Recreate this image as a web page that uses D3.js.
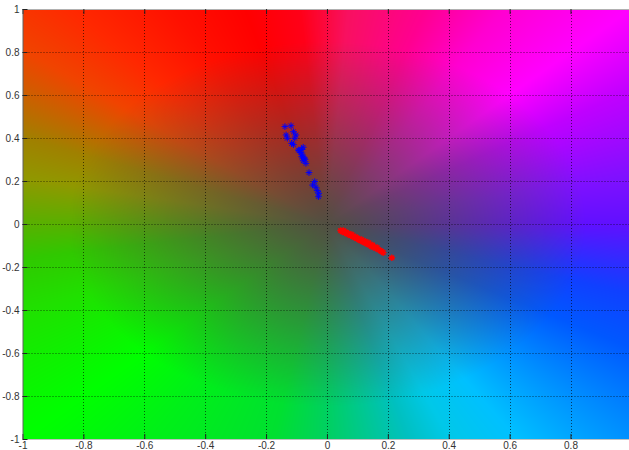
<!DOCTYPE html>
<html>
<head>
<meta charset="utf-8">
<script src="https://cdn.jsdelivr.net/npm/d3@7"></script>
<style>
  body { margin: 0; background: #fff; }
  svg { display: block; }
  .tick text { font-family: "Liberation Sans", Arial, sans-serif; font-size: 10px; fill: #333; }
</style>
</head>
<body>
<div id="root"></div>
<script>
// ticks
const xTicks = [-1, -0.8, -0.6, -0.4, -0.2, 0, 0.2, 0.4, 0.6, 0.8];
const yTicks = [-1, -0.8, -0.6, -0.4, -0.2, 0, 0.2, 0.4, 0.6, 0.8, 1];

// background colour field: edge colour by angle (degrees), faded to a grey centre
const fieldAngles = [-180, -171, -158, -135, -120, -100, -90, -75, -68, -58, -45, -30, -18, -12, 0, 13, 32, 45, 60, 72, 86, 95, 105, 117, 130, 141, 158, 168, 180];
const fieldColors = ['#58b000', '#30c800', '#20e000', '#00ff00', '#00f018', '#00e030', '#00d060', '#00c0c0', '#00c8e8', '#00c0ff', '#0090ff', '#0058ff', '#1040ff', '#2830ff', '#6010ff', '#8010ff', '#c000ff', '#ff00ff', '#ff00d0', '#ff0090', '#f81060', '#ff0018', '#ff0000', '#ff1000', '#ff2800', '#f04400', '#a08000', '#909800', '#58b000'];
const fieldCentre = '#524f42';
const fieldRadius = 0.85;

// blue series
const blueX = [-0.138, -0.118, -0.134, -0.130, -0.110, -0.102, -0.106, -0.116, -0.110, -0.078, -0.091, -0.086, -0.080, -0.083, -0.075, -0.078, -0.069, -0.059, -0.040, -0.047, -0.036, -0.032, -0.027, -0.028, -0.094, -0.083, -0.072];
const blueY = [0.453, 0.457, 0.414, 0.399, 0.429, 0.414, 0.399, 0.375, 0.369, 0.357, 0.341, 0.332, 0.321, 0.313, 0.306, 0.294, 0.282, 0.239, 0.197, 0.181, 0.171, 0.155, 0.143, 0.127, 0.344, 0.347, 0.301];

// red series
const redX = [0.045, 0.050, 0.054, 0.058, 0.062, 0.066, 0.070, 0.074, 0.078, 0.082, 0.086, 0.090, 0.094, 0.098, 0.102, 0.106, 0.110, 0.114, 0.118, 0.122, 0.126, 0.130, 0.134, 0.138, 0.142, 0.146, 0.150, 0.155, 0.160, 0.165, 0.170, 0.175, 0.180, 0.185, 0.213];
const redY = [-0.030, -0.036, -0.031, -0.041, -0.038, -0.046, -0.043, -0.050, -0.054, -0.049, -0.058, -0.063, -0.060, -0.068, -0.066, -0.074, -0.077, -0.072, -0.082, -0.086, -0.080, -0.090, -0.094, -0.088, -0.099, -0.104, -0.098, -0.108, -0.113, -0.110, -0.120, -0.124, -0.128, -0.133, -0.157];

const W = 629, H = 450;
const x = d3.scaleLinear().domain([-1, 1]).range([22.5, 631.4]);
const y = d3.scaleLinear().domain([-1, 1]).range([439, 9]);

const edge = d3.scaleLinear().domain(fieldAngles).range(fieldColors).interpolate(d3.interpolateRgb);

const svg = d3.select('#root').append('svg')
  .attr('width', W)
  .attr('height', H);

// paint the field into a canvas, then put it in the svg
const plotLeft = 23, plotTop = 9, pw = W - plotLeft, ph = 430;
const canvas = document.createElement('canvas');
canvas.width = pw;
canvas.height = ph;
const ctx = canvas.getContext('2d');
const img = ctx.createImageData(pw, ph);
for (let j = 0; j < ph; j++) {
  const vy = y.invert(plotTop + j + 0.5);
  for (let i = 0; i < pw; i++) {
    const vx = x.invert(plotLeft + i + 0.5);
    const ang = Math.atan2(vy, vx) * 180 / Math.PI;
    const t = Math.pow(Math.min(1, Math.hypot(vx, vy) / fieldRadius), 1.1);
    const c = d3.rgb(d3.interpolateRgb(fieldCentre, edge(ang))(t));
    const k = (j * pw + i) * 4;
    img.data[k] = c.r;
    img.data[k + 1] = c.g;
    img.data[k + 2] = c.b;
    img.data[k + 3] = 255;
  }
}
ctx.putImageData(img, 0, 0);

svg.append('image')
  .attr('x', plotLeft)
  .attr('y', plotTop)
  .attr('width', pw)
  .attr('height', ph)
  .attr('href', canvas.toDataURL());

// grid
const grid = svg.append('g')
  .attr('stroke', '#000')
  .attr('stroke-opacity', 0.6)
  .attr('stroke-dasharray', '1,2');
grid.selectAll('.gx')
  .data(xTicks.slice(1))
  .enter()
    .append('line')
    .attr('x1', d => Math.round(x(d)) + 0.5)
    .attr('x2', d => Math.round(x(d)) + 0.5)
    .attr('y1', y(1))
    .attr('y2', y(-1));
grid.selectAll('.gy')
  .data(yTicks.slice(1, -1))
  .enter()
    .append('line')
    .attr('x1', x(-1))
    .attr('x2', W)
    .attr('y1', d => Math.round(y(d)) + 0.5)
    .attr('y2', d => Math.round(y(d)) + 0.5);

// axes
const fmt = d => String(+d.toFixed(1));

const gBottom = svg.append('g')
  .attr('transform', 'translate(0,439)')
  .call(d3.axisBottom(x).tickValues(xTicks).tickFormat(fmt).tickSize(-5).tickSizeOuter(0).tickPadding(3));
const gTop = svg.append('g')
  .attr('transform', 'translate(0,9)')
  .call(d3.axisTop(x).tickValues(xTicks).tickFormat('').tickSize(-5).tickSizeOuter(0));
const gLeft = svg.append('g')
  .attr('transform', 'translate(22.5,0)')
  .call(d3.axisLeft(y).tickValues(yTicks).tickFormat(fmt).tickSize(-5).tickSizeOuter(0).tickPadding(3));

[gBottom, gTop, gLeft].forEach(g => {
  g.selectAll('.tick line').attr('stroke', '#222');
  g.selectAll('.tick text').attr('fill', '#333');
});
gBottom.select('.domain').attr('stroke', '#c0c0c0');
gTop.select('.domain').attr('stroke', '#b0b0b0');
gLeft.select('.domain').attr('stroke', '#606060');

// markers
function star(s) {
  const a = s * 0.7;
  return `M${-s},0H${s}M0,${-s}V${s}M${-a},${-a}L${a},${a}M${-a},${a}L${a},${-a}`;
}

svg.append('g').selectAll('path')
  .data(d3.zip(blueX, blueY))
  .enter()
    .append('path')
    .attr('transform', d => `translate(${x(d[0])},${y(d[1])})`)
    .attr('d', star(3.3))
    .attr('fill', 'none')
    .attr('stroke', '#0000ff')
    .attr('stroke-width', 1);

svg.append('g').selectAll('path')
  .data(d3.zip(redX, redY))
  .enter()
    .append('path')
    .attr('transform', d => `translate(${x(d[0])},${y(d[1])})`)
    .attr('d', star(3.3))
    .attr('fill', 'none')
    .attr('stroke', '#ff0000')
    .attr('stroke-width', 1.4);
</script>
</body>
</html>
